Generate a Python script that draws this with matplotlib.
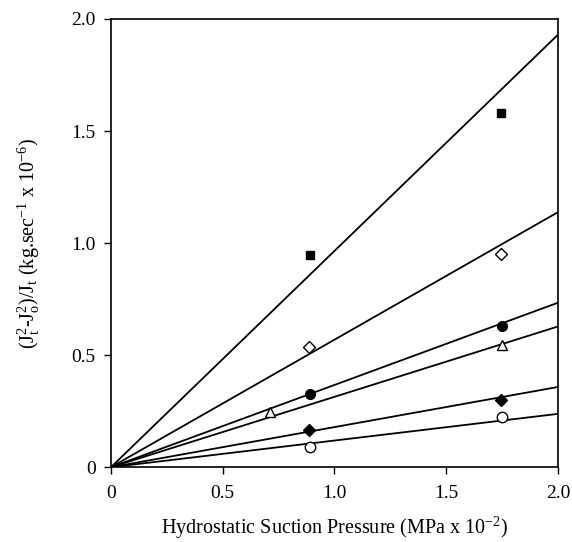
import matplotlib
matplotlib.use("Agg")
import matplotlib.pyplot as plt

plt.rcParams['font.family'] = ['Liberation Serif', 'DejaVu Serif']
plt.rcParams['mathtext.fontset'] = 'custom'
plt.rcParams['mathtext.rm'] = 'Liberation Serif'
plt.rcParams['mathtext.it'] = 'Liberation Serif:italic'

# fitted slopes of the lines through the origin
slopes = [0.965, 0.569, 0.367, 0.314, 0.179, 0.119]

# measured points for each series
series_x = [
    [0.89, 1.745],
    [0.886, 1.745],
    [0.89, 1.75],
    [0.71, 1.75],
    [0.886, 1.745],
    [0.89, 1.75],
]
series_y = [
    [0.945, 1.58],
    [0.537, 0.953],
    [0.326, 0.632],
    [0.245, 0.545],
    [0.167, 0.302],
    [0.092, 0.224],
]
markers = ['s', 'D', 'o', '^', 'D', 'o']
filled = [True, False, True, False, True, False]
msizes = [6, 6.5, 7, 7.5, 6.5, 7.5]

x_ticks = [0, 0.5, 1.0, 1.5, 2.0]
x_tick_labels = ['0', '0.5', '1.0', '1.5', '2.0']
y_ticks = [0, 0.5, 1.0, 1.5, 2.0]
y_tick_labels = ['0', '0.5', '1.0', '1.5', '2.0']

fig = plt.figure(figsize=(5.72, 5.42), dpi=100)
ax = fig.add_axes([0.194, 0.138, 0.7815, 0.827])

# lines
for s in slopes:
    ax.plot([0, 2.0], [0, 2.0 * s], color='black', linewidth=1.3, solid_capstyle='butt')

# points
for i in range(len(series_x)):
    if filled[i]:
        fc = 'black'
    else:
        fc = 'white'
    ax.plot(series_x[i], series_y[i], linestyle='none', marker=markers[i],
            markersize=msizes[i], markerfacecolor=fc, markeredgecolor='black',
            markeredgewidth=1.0, zorder=3)

ax.set_xlim(0, 2.0)
ax.set_ylim(0, 2.0)
ax.set_xticks(x_ticks)
ax.set_xticklabels(x_tick_labels)
ax.set_yticks(y_ticks)
ax.set_yticklabels(y_tick_labels)
ax.tick_params(direction='out', length=5, width=1, labelsize=14)
ax.tick_params(axis='x', pad=8)
ax.tick_params(axis='y', pad=6)
for sp in ax.spines.values():
    sp.set_linewidth(1.2)

ax.set_xlabel(r'Hydrostatic Suction Pressure (MPa x 10$^{-2}$)', fontsize=14.5, labelpad=9)
ax.set_ylabel(r'(J$_\mathrm{t}^{2}$-J$_\mathrm{o}^{2}$)/J$_\mathrm{t}$ (kg.sec$^{-1}$ x 10$^{-6}$)',
              fontsize=14.5, labelpad=21)

fig.savefig('out.png', dpi=100)
